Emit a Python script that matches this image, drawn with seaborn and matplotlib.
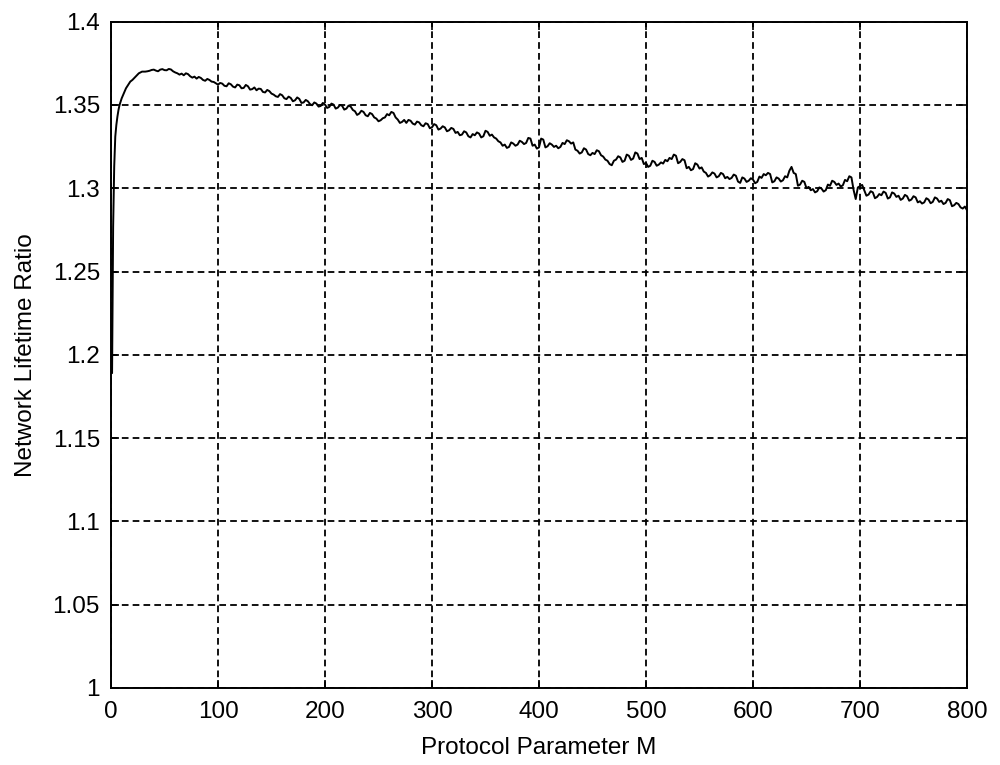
import matplotlib
matplotlib.use("Agg")
import matplotlib.pyplot as plt
from matplotlib.ticker import FuncFormatter
import seaborn as sns
import pandas as pd

# Valores (M, relacion de vida de la red)
m_inicio = [1, 2, 3, 4, 5, 6, 7, 8, 10, 12, 14, 16, 18, 20, 23, 26, 29, 32, 34]
ratio_inicio = [1.189, 1.277, 1.313, 1.331, 1.338, 1.343, 1.347, 1.350, 1.354,
                1.357, 1.360, 1.362, 1.364, 1.365, 1.367, 1.369, 1.370, 1.370, 1.3702]

# M = 36..100 de dos en dos
ratio_0_100 = [1.3705, 1.3710, 1.3712, 1.3706, 1.3702, 1.3712, 1.3715, 1.3709, 1.3708, 1.3716,
               1.3713, 1.3702, 1.3695, 1.3690, 1.3682, 1.3688, 1.3678, 1.3690, 1.3685, 1.3672,
               1.3664, 1.3670, 1.3658, 1.3668, 1.3662, 1.3650, 1.3645, 1.3656, 1.3650, 1.3640,
               1.3638, 1.3630, 1.3622]
# M = 102..200
ratio_100_200 = [1.3632, 1.3628, 1.3615, 1.3612, 1.3630, 1.3624, 1.3610, 1.3605, 1.3622, 1.3618,
                 1.3600, 1.3602, 1.3620, 1.3612, 1.3592, 1.3595, 1.3605, 1.3588, 1.3598, 1.3596,
                 1.3578, 1.3575, 1.3590, 1.3583, 1.3568, 1.3562, 1.3552, 1.3548, 1.3565, 1.3558,
                 1.3540, 1.3535, 1.3550, 1.3542, 1.3522, 1.3528, 1.3545, 1.3536, 1.3512, 1.3515,
                 1.3530, 1.3522, 1.3505, 1.3498, 1.3515, 1.3508, 1.3490, 1.3494, 1.3512, 1.3502]
# M = 202..300
ratio_200_300 = [1.3482, 1.3488, 1.3508, 1.3502, 1.3478, 1.3484, 1.3500, 1.3495, 1.3472, 1.3478,
                 1.3496, 1.3490, 1.3470, 1.3462, 1.3440, 1.3448, 1.3465, 1.3458, 1.3438, 1.3432,
                 1.3452, 1.3445, 1.3425, 1.3418, 1.3402, 1.3408, 1.3420, 1.3425, 1.3445, 1.3438,
                 1.3458, 1.3452, 1.3425, 1.3412, 1.3392, 1.3398, 1.3410, 1.3392, 1.3410, 1.3405,
                 1.3388, 1.3382, 1.3400, 1.3395, 1.3378, 1.3372, 1.3390, 1.3385, 1.3360, 1.3366]
# M = 302..400
ratio_300_400 = [1.3385, 1.3378, 1.3352, 1.3358, 1.3372, 1.3365, 1.3342, 1.3348, 1.3362, 1.3356,
                 1.3332, 1.3338, 1.3318, 1.3322, 1.3342, 1.3335, 1.3312, 1.3305, 1.3325, 1.3318,
                 1.3335, 1.3328, 1.3305, 1.3312, 1.3345, 1.3338, 1.3315, 1.3322, 1.3305, 1.3298,
                 1.3282, 1.3275, 1.3255, 1.3262, 1.3242, 1.3248, 1.3275, 1.3268, 1.3255, 1.3262,
                 1.3285, 1.3278, 1.3265, 1.3272, 1.3302, 1.3298, 1.3255, 1.3262, 1.3238, 1.3245]
# M = 402..500
ratio_400_500 = [1.3298, 1.3292, 1.3245, 1.3252, 1.3270, 1.3262, 1.3248, 1.3255, 1.3240, 1.3248,
                 1.3272, 1.3265, 1.3288, 1.3282, 1.3268, 1.3275, 1.3232, 1.3225, 1.3208, 1.3215,
                 1.3240, 1.3232, 1.3205, 1.3198, 1.3212, 1.3205, 1.3228, 1.3222, 1.3198, 1.3190,
                 1.3172, 1.3165, 1.3145, 1.3138, 1.3165, 1.3172, 1.3192, 1.3185, 1.3158, 1.3165,
                 1.3202, 1.3195, 1.3170, 1.3178, 1.3215, 1.3208, 1.3175, 1.3182, 1.3145, 1.3152]
# M = 502..600
ratio_500_600 = [1.3128, 1.3135, 1.3165, 1.3158, 1.3135, 1.3142, 1.3155, 1.3148, 1.3170, 1.3162,
                 1.3182, 1.3175, 1.3202, 1.3195, 1.3150, 1.3158, 1.3175, 1.3168, 1.3120, 1.3128,
                 1.3108, 1.3115, 1.3150, 1.3142, 1.3118, 1.3125, 1.3100, 1.3092, 1.3070, 1.3078,
                 1.3095, 1.3088, 1.3065, 1.3072, 1.3092, 1.3085, 1.3060, 1.3068, 1.3055, 1.3062,
                 1.3082, 1.3075, 1.3040, 1.3032, 1.3065, 1.3058, 1.3038, 1.3045, 1.3060, 1.3052]
# M = 602..700
ratio_600_700 = [1.3030, 1.3038, 1.3070, 1.3062, 1.3085, 1.3078, 1.3092, 1.3085, 1.3035, 1.3042,
                 1.3065, 1.3058, 1.3040, 1.3048, 1.3072, 1.3065, 1.3105, 1.3128, 1.3092, 1.3085,
                 1.3015, 1.3022, 1.3045, 1.3038, 1.3000, 1.3008, 1.2988, 1.2995, 1.2975, 1.2982,
                 1.3005, 1.2998, 1.2980, 1.2988, 1.3022, 1.3015, 1.3045, 1.3038, 1.3020, 1.3028,
                 1.3010, 1.3018, 1.3050, 1.3042, 1.3072, 1.3065, 1.2990, 1.2935, 1.3005, 1.3012]
# M = 702..800
ratio_700_800 = [1.3020, 1.2988, 1.2955, 1.2962, 1.2982, 1.2975, 1.2940, 1.2948, 1.2965, 1.2958,
                 1.2980, 1.2972, 1.2938, 1.2945, 1.2975, 1.2968, 1.2948, 1.2955, 1.2930, 1.2938,
                 1.2960, 1.2952, 1.2925, 1.2932, 1.2952, 1.2945, 1.2915, 1.2922, 1.2908, 1.2915,
                 1.2940, 1.2932, 1.2910, 1.2918, 1.2945, 1.2938, 1.2918, 1.2925, 1.2905, 1.2912,
                 1.2935, 1.2928, 1.2892, 1.2898, 1.2912, 1.2905, 1.2885, 1.2878, 1.2890, 1.2868]

ticks_x = [0, 100, 200, 300, 400, 500, 600, 700, 800]
ticks_y = [1, 1.05, 1.1, 1.15, 1.2, 1.25, 1.3, 1.35, 1.4]

m_resto = list(range(36, 801, 2))
ratio_resto = (ratio_0_100 + ratio_100_200 + ratio_200_300 + ratio_300_400
               + ratio_400_500 + ratio_500_600 + ratio_600_700 + ratio_700_800)
datos = pd.DataFrame({"M": m_inicio + m_resto, "ratio": ratio_inicio + ratio_resto})

sns.set_theme(style="ticks")
plt.rcParams["font.family"] = ["Liberation Sans", "DejaVu Sans"]

fig = plt.figure(figsize=(10, 7.65), dpi=100)
fig.patch.set_facecolor("white")
ax = fig.add_axes([0.111, 0.1007, 0.856, 0.871])
ax.set_facecolor("white")

sns.lineplot(data=datos, x="M", y="ratio", ax=ax, color="black",
             linewidth=1.4, estimator=None, sort=False)

ax.set_xlim(0, 800)
ax.set_ylim(1, 1.4)
ax.set_xticks(ticks_x)
ax.set_yticks(ticks_y)
ax.yaxis.set_major_formatter(FuncFormatter(lambda v, _: f"{v:g}"))

# Rejilla discontinua estilo MATLAB
ax.grid(True, color="black", linestyle=(0, (3.7, 2.3)), linewidth=1.3)
ax.set_axisbelow(True)

for lado in ["top", "right", "left", "bottom"]:
    ax.spines[lado].set_visible(True)
    ax.spines[lado].set_color("black")
    ax.spines[lado].set_linewidth(1.4)

ax.tick_params(axis="both", direction="in", top=True, right=True,
               length=6, width=1.2, colors="black", labelsize=17.5)
ax.tick_params(axis="x", pad=9.5)
ax.tick_params(axis="y", pad=8)

ax.set_xlabel("Protocol Parameter M", fontsize=17.5, color="black", labelpad=10)
ax.set_ylabel("Network Lifetime Ratio", fontsize=17.5, color="black", labelpad=11)

fig.savefig("out.png", dpi=100, facecolor="white")
plt.close(fig)
